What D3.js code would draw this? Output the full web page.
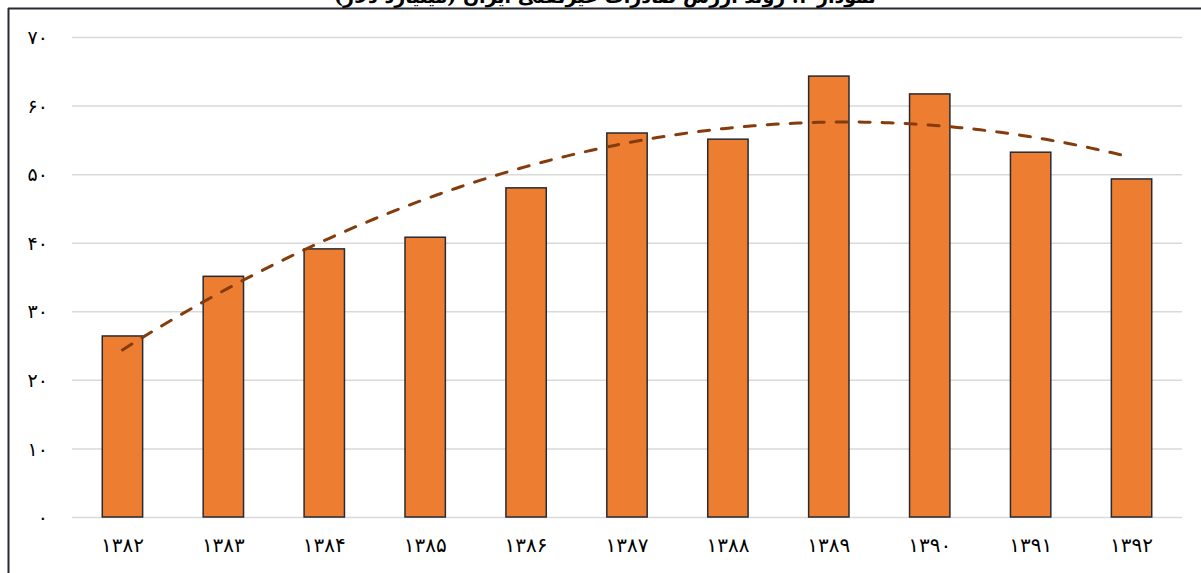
<!DOCTYPE html>
<html lang="fa">
<head>
<meta charset="utf-8">
<script src="https://cdn.jsdelivr.net/npm/d3@7"></script>
<style>
  html, body { margin: 0; padding: 0; background: #ffffff; }
  svg { display: block; }
  text { font-family: "DejaVu Serif", "DejaVu Sans", "Noto Sans", serif; }
</style>
</head>
<body>
<svg id="chart" width="1201" height="573"></svg>
<script>
// Years (Persian calendar) and values in billion dollars
const years = ["۱۳۸۲", "۱۳۸۳", "۱۳۸۴", "۱۳۸۵", "۱۳۸۶", "۱۳۸۷", "۱۳۸۸", "۱۳۸۹", "۱۳۹۰", "۱۳۹۱", "۱۳۹۲"];
const values = [26.4, 35.1, 39.1, 40.8, 48.0, 56.0, 55.1, 64.3, 61.7, 53.2, 49.3];
const yTicks = [0, 10, 20, 30, 40, 50, 60, 70];
const tickLabels = ["۰", "۱۰", "۲۰", "۳۰", "۴۰", "۵۰", "۶۰", "۷۰"];
const title = "نمودار ۳: روند ارزش صادرات غیرنفتی ایران (میلیارد دلار)";

const svg = d3.select("#chart");
const W = 1201, H = 573;
const plot = { left: 72, right: 1182, top: 37, bottom: 517 };

const x = d3.scaleBand().domain(years).range([plot.left, plot.right]).paddingInner(0.6).paddingOuter(0.3);
const y = d3.scaleLinear().domain([0, 70]).range([plot.bottom, plot.top]);

// Title, sitting above the frame
svg.append("text")
  .attr("x", 605).attr("y", 3)
  .attr("text-anchor", "middle")
  .attr("direction", "rtl")
  .attr("font-size", 19).attr("font-weight", "bold")
  .attr("fill", "#000")
  .text(title);

// Frame
svg.append("rect").attr("x", 0).attr("y", 8).attr("width", W).attr("height", H).attr("fill", "#fff");
svg.append("line").attr("x1", 8).attr("x2", W).attr("y1", 8.5).attr("y2", 8.5)
  .attr("stroke", "#262b33").attr("stroke-width", 2);
svg.append("line").attr("x1", 8.5).attr("x2", 8.5).attr("y1", 8).attr("y2", H)
  .attr("stroke", "#262b33").attr("stroke-width", 2);

// Gridlines and value labels
const yAxis = d3.axisLeft(y).tickValues(yTicks)
  .tickSize(-(plot.right - plot.left))
  .tickFormat((d, i) => tickLabels[i]);
const gy = svg.append("g").attr("transform", `translate(${plot.left},0)`).call(yAxis);
gy.select(".domain").remove();
gy.selectAll(".tick line").attr("stroke", "#d9d9d9").attr("stroke-width", 1.5);
gy.selectAll(".tick text")
  .attr("x", -24).attr("dy", "0.35em")
  .attr("font-size", 19).attr("fill", "#000");

// Bars
svg.append("g").selectAll("rect").data(values).join("rect")
  .attr("x", (d, i) => x(years[i]))
  .attr("y", d => y(d))
  .attr("width", x.bandwidth())
  .attr("height", d => y(0) - y(d))
  .attr("fill", "#ED7D31")
  .attr("stroke", "#262b33")
  .attr("stroke-width", 1.5);

// Year labels
const xAxis = d3.axisBottom(x).tickSize(0).tickPadding(0);
const gx = svg.append("g").attr("transform", `translate(0,${plot.bottom})`).call(xAxis);
gx.select(".domain").remove();
gx.selectAll(".tick text")
  .attr("y", 35).attr("dy", 0)
  .attr("font-size", 20).attr("fill", "#000");

// Second-order polynomial trend (least squares fit over the series)
const n = values.length;
const idx = d3.range(1, n + 1);
const tMean = d3.mean(idx);
const t = idx.map(v => v - tMean);
const t2Mean = d3.mean(t, v => v * v);
const p2 = t.map(v => v * v - t2Mean);
const a0 = d3.mean(values);
const a1 = d3.sum(t, (v, i) => v * values[i]) / d3.sum(t, v => v * v);
const a2 = d3.sum(p2, (v, i) => v * values[i]) / d3.sum(p2, v => v * v);
const fit = tt => a0 + a1 * tt + a2 * (tt * tt - t2Mean);

const trendPts = d3.range(0, n - 1 + 0.001, 0.05).map(k => {
  const tt = k + 1 - tMean;
  const px = x(years[0]) + x.bandwidth() / 2 + k * x.step();
  return [px, y(fit(tt))];
});

svg.append("path")
  .datum(trendPts)
  .attr("d", d3.line().curve(d3.curveLinear))
  .attr("fill", "none")
  .attr("stroke", "#843C0C")
  .attr("stroke-width", 3)
  .attr("stroke-linecap", "round")
  .attr("stroke-dasharray", "11 12");
</script>
</body>
</html>
